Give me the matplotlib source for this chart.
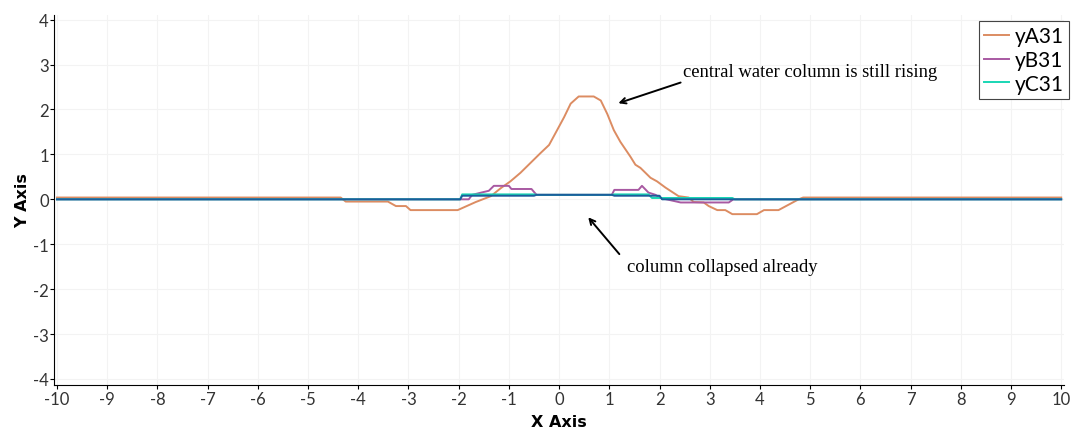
import matplotlib
matplotlib.use("Agg")
import matplotlib.pyplot as plt

plt.rcParams["axes.unicode_minus"] = False

# values
xA = [-10, -4.35, -4.25, -3.41, -3.25, -3.05, -2.96, -2.02, -1.66, -1.36, -1.16,
      -0.97, -0.77, -0.57, -0.37, -0.20, -0.04, 0.10, 0.23, 0.39, 0.69, 0.83,
      0.96, 1.09, 1.22, 1.42, 1.52, 1.62, 1.82, 1.95, 2.12, 2.38, 2.58, 2.68,
      2.88, 2.98, 3.15, 3.31, 3.45, 3.94, 4.08, 4.37, 4.77, 4.86, 10]
yA = [0.04, 0.04, -0.05, -0.05, -0.15, -0.15, -0.24, -0.24, -0.06, 0.07, 0.25,
      0.40, 0.59, 0.81, 1.03, 1.21, 1.54, 1.83, 2.13, 2.29, 2.29, 2.20,
      1.90, 1.54, 1.28, 0.95, 0.77, 0.70, 0.48, 0.40, 0.26, 0.07, 0.04, -0.06,
      -0.07, -0.15, -0.24, -0.24, -0.33, -0.33, -0.24, -0.24, 0.0, 0.04, 0.04]

xB = [-10, -1.8, -1.73, -1.55, -1.4, -1.3, -1.0, -0.95, -0.55, -0.45, 1.05,
      1.1, 1.58, 1.65, 1.78, 1.92, 2.02, 2.42, 3.38, 3.47, 10]
yB = [0, 0, 0.1, 0.15, 0.19, 0.3, 0.3, 0.23, 0.23, 0.1, 0.1,
      0.21, 0.21, 0.3, 0.15, 0.1, 0.03, -0.07, -0.07, 0, 0]

xC = [-10, -1.97, -1.93, -0.5, -0.45, 1.05, 1.1, 1.78, 1.85, 3.45, 3.5, 10]
yC = [0, 0, 0.11, 0.11, 0.1, 0.1, 0.11, 0.11, 0.03, 0.03, 0, 0]

xD = [-10, -1.97, -1.93, -0.5, -0.45, 1.05, 1.1, 2.0, 2.05, 10]
yD = [0, 0, 0.08, 0.08, 0.1, 0.1, 0.08, 0.08, 0, 0]

labels = ["yA31", "yB31", "yC31"]
colors = ["#dc8c62", "#a859a2", "#19d6b4", "#1b5d9b"]

fig = plt.figure(figsize=(10.75, 4.31), dpi=100)
ax = fig.add_axes([0.0505, 0.1044, 0.939, 0.8586])

ax.plot(xA, yA, color=colors[0], lw=1.4, label=labels[0], zorder=2)
ax.plot(xB, yB, color=colors[1], lw=1.4, label=labels[1], zorder=3)
ax.plot(xC, yC, color=colors[2], lw=1.4, label=labels[2], zorder=4)
ax.plot(xD, yD, color=colors[3], lw=1.4, zorder=5)

ax.set_xlim(-10.054, 10.05)
ax.set_ylim(-4.134, 4.105)
ax.set_xticks(range(-10, 11))
ax.set_yticks(range(-4, 5))
ax.grid(True, color="#f3f3f3", lw=0.8)
ax.set_axisbelow(True)
for s in ["top", "right"]:
    ax.spines[s].set_visible(False)
ax.tick_params(direction="out", length=3, width=0.8, labelsize=12,
               labelcolor="#333333", pad=1)
for lab in ax.get_xticklabels() + ax.get_yticklabels():
    lab.set_family("Lato")

ax.set_xlabel("X Axis", fontsize=11.5, fontweight="bold", labelpad=5)
ax.set_ylabel("Y Axis", fontsize=11.5, fontweight="bold", labelpad=2)

leg = ax.legend(loc="upper right", bbox_to_anchor=(1069 / 1075, 1 - 22 / 431),
                bbox_transform=fig.transFigure, fancybox=False,
                edgecolor="#444444", framealpha=1, handlelength=1.2,
                handletextpad=0.25, labelspacing=0.18, borderpad=0.25,
                borderaxespad=0, prop={"family": "Lato", "size": 15})
leg.get_frame().set_linewidth(0.8)

ax.annotate("", xy=(1.18, 2.14), xytext=(2.42, 2.6),
            arrowprops=dict(arrowstyle="->", color="black", lw=1.4,
                            shrinkA=0, shrinkB=0))
ax.text(2.47, 2.85, "central water column is still rising", va="center",
        fontsize=13.4, family="Liberation Serif")
ax.annotate("", xy=(0.58, -0.4), xytext=(1.2, -1.22),
            arrowprops=dict(arrowstyle="->", color="black", lw=1.4,
                            shrinkA=0, shrinkB=0))
ax.text(1.36, -1.5, "column collapsed already", va="center",
        fontsize=13.4, family="Liberation Serif")

fig.savefig("out.png", dpi=100)
